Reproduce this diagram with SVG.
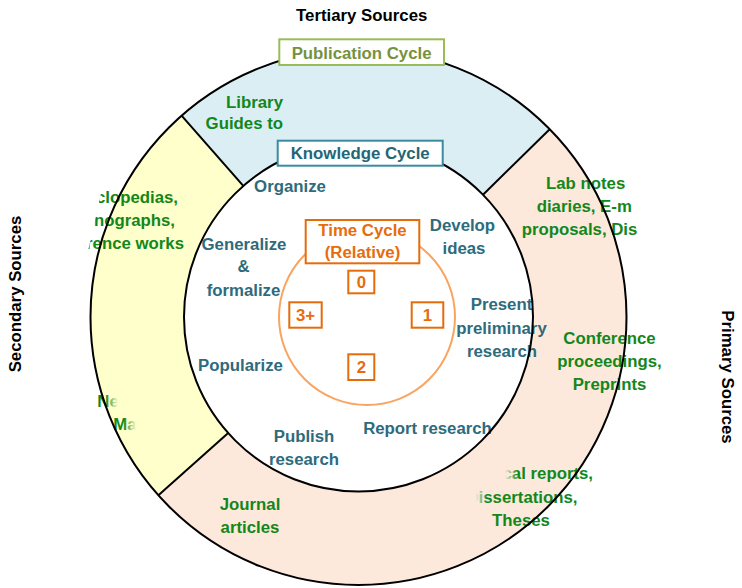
<svg xmlns="http://www.w3.org/2000/svg" width="742" height="588" viewBox="0 0 742 588">
<style>
text{font-family:"Liberation Sans",Arial,sans-serif;font-weight:bold;font-size:16.8px}
.hdr{fill:#000}
.grn{fill:#12871C}
.tl{fill:#2D6B7D;text-anchor:middle}
.org{fill:#E66C0C;text-anchor:middle}
.ring{fill:none;stroke:#000;stroke-width:2}
.tbox{fill:#fff;stroke:#E46C0A;stroke-width:2}
</style>
<defs>
<linearGradient id="fadeNews" gradientUnits="userSpaceOnUse" x1="106" y1="0" x2="118" y2="0"><stop offset="0" stop-color="#12871C" stop-opacity="1"/><stop offset="1" stop-color="#12871C" stop-opacity="0"/></linearGradient>
<linearGradient id="fadeMag" gradientUnits="userSpaceOnUse" x1="124" y1="0" x2="136" y2="0"><stop offset="0" stop-color="#12871C" stop-opacity="1"/><stop offset="1" stop-color="#12871C" stop-opacity="0"/></linearGradient>
<linearGradient id="fadeTech" gradientUnits="userSpaceOnUse" x1="505" y1="0" x2="518" y2="0"><stop offset="0" stop-color="#12871C" stop-opacity="0"/><stop offset="1" stop-color="#12871C" stop-opacity="1"/></linearGradient>
<linearGradient id="fadeDiss" gradientUnits="userSpaceOnUse" x1="476" y1="0" x2="487" y2="0"><stop offset="0" stop-color="#12871C" stop-opacity="0"/><stop offset="1" stop-color="#12871C" stop-opacity="1"/></linearGradient>
<clipPath id="clipSec"><polygon points="104,180 200,180 200,260 86,260"/></clipPath>
<clipPath id="clipLab"><polygon points="500,165 624,165 640,245 500,245"/></clipPath>
</defs>
<rect width="742" height="588" fill="#fff"/>

<g id="segments">
<path d="M181.6,115.7 A268,268 0 0 1 549.7,129.2 L483,194.7 A174.5,174.5 0 0 0 243.3,185.9 Z" fill="#DBEEF4"/>
<path d="M181.6,115.7 A268,268 0 0 0 158.4,495.3 L228.2,433.1 A174.5,174.5 0 0 1 243.3,185.9 Z" fill="#FFFFCC"/>
<path d="M549.7,129.2 A268,268 0 1 1 158.4,495.3 L228.2,433.1 A174.5,174.5 0 1 0 483,194.7 Z" fill="#FCE9DB"/>
<circle cx="358.5" cy="317" r="174.5" fill="#fff"/>
</g>

<g id="headers">
<text class="hdr" x="361.7" y="20.5" text-anchor="middle">Tertiary Sources</text>
<text class="hdr" text-anchor="middle" transform="translate(20.5,294) rotate(-90)">Secondary Sources</text>
<text class="hdr" text-anchor="middle" transform="translate(721.5,377) rotate(90)">Primary Sources</text>
</g>

<g id="tertiary-examples">
<text class="grn" x="283" y="108" text-anchor="end">Library</text>
<text class="grn" x="283" y="129" text-anchor="end">Guides to</text>
</g>

<g id="secondary-examples">
<g clip-path="url(#clipSec)">
<text class="grn" x="178" y="202.5" text-anchor="end">clopedias,</text>
<text class="grn" x="175" y="225.5" text-anchor="end">nographs,</text>
<text class="grn" x="184" y="248.5" text-anchor="end">rence works</text>
</g>
<text x="97.3" y="406.7" fill="url(#fadeNews)">Newspapers,</text>
<text x="113.3" y="430" fill="url(#fadeMag)">Magazines</text>
</g>

<g id="primary-examples">
<g clip-path="url(#clipLab)">
<text class="grn" x="546" y="188.5">Lab notes</text>
<text class="grn" x="536.7" y="211.5">diaries, E-m</text>
<text class="grn" x="521.7" y="235">proposals, Disc</text>
</g>
<text class="grn" x="609.5" y="343.5" text-anchor="middle">Conference</text>
<text class="grn" x="609.5" y="366.8" text-anchor="middle">proceedings,</text>
<text class="grn" x="609.5" y="390" text-anchor="middle">Preprints</text>
<text x="593" y="479" text-anchor="end" fill="url(#fadeTech)">Technical reports,</text>
<text x="522" y="502.5" text-anchor="middle" fill="url(#fadeDiss)">Dissertations,</text>
<text class="grn" x="521" y="526" text-anchor="middle">Theses</text>
<text class="grn" x="250" y="510" text-anchor="middle">Journal</text>
<text class="grn" x="250" y="533.3" text-anchor="middle">articles</text>
</g>

<g id="knowledge-steps">
<text class="tl" x="290" y="191.5">Organize</text>
<text class="tl" x="462.5" y="230.5">Develop</text>
<text class="tl" x="464" y="254">ideas</text>
<text class="tl" x="244" y="249.5">Generalize</text>
<text class="tl" x="243.5" y="272">&amp;</text>
<text class="tl" x="243.5" y="295.7">formalize</text>
<text class="tl" x="501.5" y="310">Present</text>
<text class="tl" x="501.5" y="333.5">preliminary</text>
<text class="tl" x="502" y="356.7">research</text>
<text class="tl" x="240.5" y="370.7">Popularize</text>
<text class="tl" x="427.5" y="434">Report research</text>
<text class="tl" x="304" y="442.3">Publish</text>
<text class="tl" x="304" y="465">research</text>
</g>

<g id="rings">
<circle class="ring" cx="358.5" cy="317" r="268"/>
<circle class="ring" cx="358.5" cy="317" r="174.5"/>
<line class="ring" x1="181.6" y1="115.7" x2="243.3" y2="185.9"/>
<line class="ring" x1="549.7" y1="129.2" x2="483" y2="194.7"/>
<line class="ring" x1="158.4" y1="495.3" x2="228.2" y2="433.1"/>
</g>

<g id="publication-cycle">
<rect x="279.3" y="39.3" width="164.7" height="25.7" fill="#fff" stroke="#9BBB59" stroke-width="2"/>
<text x="361.6" y="58.5" text-anchor="middle" fill="#76923C">Publication Cycle</text>
</g>

<g id="knowledge-cycle">
<rect x="277.7" y="140.7" width="165" height="25" fill="#fff" stroke="#3A8AA0" stroke-width="2"/>
<text x="360.2" y="159" text-anchor="middle" fill="#236676">Knowledge Cycle</text>
</g>

<g id="time-circle">
<circle cx="367" cy="317" r="88" fill="none" stroke="#F9A561" stroke-width="2"/>
</g>

<g id="time-cycle">
<rect class="tbox" x="305.7" y="220" width="113.6" height="43.3"/>
<text class="org" x="362.5" y="235.5">Time Cycle</text>
<text class="org" x="362.5" y="257.5">(Relative)</text>
</g>
<g id="t0">
<rect class="tbox" x="348.3" y="270.7" width="26" height="22.6"/>
<text class="org" x="361.3" y="288">0</text>
</g>
<g id="t1">
<rect class="tbox" x="411.7" y="302.3" width="31.6" height="25.4"/>
<text class="org" x="427.5" y="321">1</text>
</g>
<g id="t2">
<rect class="tbox" x="348.3" y="354.3" width="26" height="25.7"/>
<text class="org" x="361.3" y="373">2</text>
</g>
<g id="t3">
<rect class="tbox" x="289.3" y="302.3" width="32.4" height="25.4"/>
<text class="org" x="305.5" y="321">3+</text>
</g>
</svg>
